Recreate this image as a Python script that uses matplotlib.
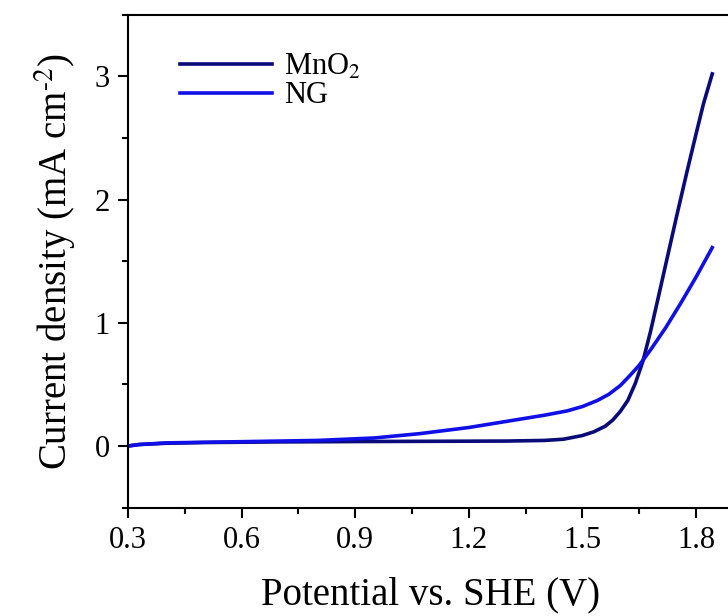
import matplotlib
matplotlib.use('Agg')
import matplotlib.pyplot as plt
from matplotlib.ticker import MultipleLocator

plt.rcParams['font.family'] = ['Liberation Serif', 'DejaVu Serif']
plt.rcParams['mathtext.fontset'] = 'stix'

# potential (V vs. SHE) and current density (mA cm^-2)
mno2_v = [0.30, 0.33, 0.40, 0.50, 0.70, 0.90, 1.10, 1.30, 1.40, 1.45, 1.50, 1.53,
          1.56, 1.58, 1.60, 1.62, 1.64, 1.66, 1.68, 1.70, 1.725, 1.75, 1.775, 1.80, 1.82, 1.843]
mno2_j = [0.00, 0.012, 0.022, 0.028, 0.033, 0.036, 0.038, 0.040, 0.045, 0.055, 0.085, 0.115,
          0.16, 0.21, 0.28, 0.37, 0.51, 0.69, 0.93, 1.20, 1.54, 1.88, 2.21, 2.53, 2.78, 3.02]

ng_v = [0.30, 0.33, 0.40, 0.60, 0.80, 0.95, 1.07, 1.20, 1.30, 1.40, 1.46, 1.50,
        1.54, 1.57, 1.60, 1.625, 1.65, 1.68, 1.72, 1.76, 1.80, 1.843]
ng_j = [0.00, 0.012, 0.025, 0.035, 0.045, 0.065, 0.10, 0.15, 0.20, 0.25, 0.285, 0.32,
        0.37, 0.42, 0.49, 0.57, 0.655, 0.78, 0.96, 1.16, 1.37, 1.61]

fig = plt.figure(figsize=(7.28, 6.16), dpi=100)
ax = fig.add_axes([0.176, 0.176, 0.832, 0.8])

ax.plot(mno2_v, mno2_j, color='#0a0a78', lw=2.6, label='MnO$_2$')
ax.plot(ng_v, ng_j, color='#1010e6', lw=2.6, label='NG')

ax.set_xlim(0.3, 1.9)
ax.set_ylim(-0.5, 3.5)
ax.xaxis.set_minor_locator(MultipleLocator(0.15))
ax.yaxis.set_major_locator(MultipleLocator(1))
ax.yaxis.set_minor_locator(MultipleLocator(0.5))
ax.set_xticks([0.3, 0.6, 0.9, 1.2, 1.5, 1.8])
ax.set_xticklabels(['0.3', '0.6', '0.9', '1.2', '1.5', '1.8'])
ax.tick_params(which='both', direction='out', width=1.5, labelsize=22, pad=6)
ax.tick_params(which='major', length=7)
ax.tick_params(which='minor', length=4)
for s in ax.spines.values():
    s.set_linewidth(1.5)

ax.set_xlabel('Potential vs. SHE (V)', fontsize=28, labelpad=16)
ax.set_ylabel('Current density (mA cm$^{\\text{-2}}$)', fontsize=28, labelpad=12)

ax.legend(loc='upper left', bbox_to_anchor=(0.04, 0.98), frameon=False,
          fontsize=22, handlelength=3.0, handletextpad=0.4, labelspacing=0.0)

fig.savefig('out.png', dpi=100)
